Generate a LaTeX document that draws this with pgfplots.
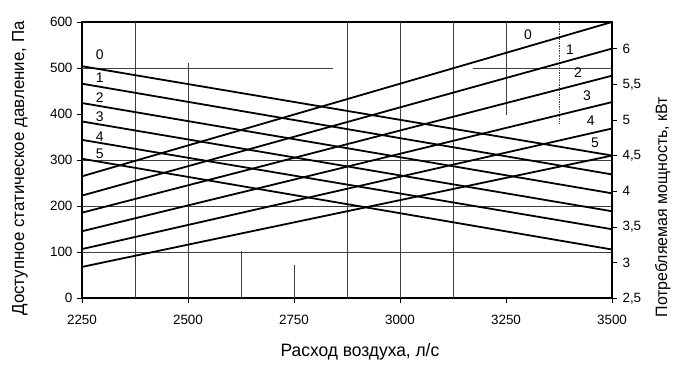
\documentclass[border=0pt]{standalone}
\usepackage{pgfplots}
\pgfplotsset{compat=1.18}
\usepackage{fontspec}
\setmainfont{Liberation Sans}
\newfontfamily\narrowfont[FakeStretch=0.97]{Liberation Sans}
\begin{document}
\begin{tikzpicture}
\useasboundingbox (-82bp,-73bp) rectangle (598bp,298.3bp);
\begin{axis}[
  at={(0,0)}, anchor=south west,
  scale only axis, width=530bp, height=276.3bp,
  xmin=2250, xmax=3500, ymin=0, ymax=600,
  xtick={2250,2500,...,3500}, ytick={0,100,...,600},
  xtick pos=bottom, ytick pos=left,
  tick align=outside, major tick length=5bp,
  tick style={black, line width=0.8bp},
  axis line style={black, line width=2bp},
  /pgf/number format/assume math mode=true,
  scaled x ticks=false,
  xticklabel style={/pgf/number format/1000 sep={}, font=\fontsize{13.5}{14}\selectfont, yshift=-8bp},
  yticklabel style={font=\fontsize{13.5}{14}\selectfont, xshift=-1bp},
  xlabel={\narrowfont\fontsize{18}{20}\selectfont Расход воздуха, л/с},
  xlabel style={at={(rel axis cs:0.5245,-0.195)}, anchor=center},
  ylabel={\narrowfont\fontsize{17.5}{20}\selectfont Доступное статическое давление, Па},
  ylabel style={at={(rel axis cs:-0.117,0.47)}, anchor=center, rotate=0},
  clip=false,
]
% partial grid lines
\draw[black!75, line width=0.7bp] (axis cs:2375,0) -- (axis cs:2375,600);
\draw[black!75, line width=0.7bp] (axis cs:2500,0) -- (axis cs:2500,510);
\draw[black!75, line width=0.7bp] (axis cs:2625,0) -- (axis cs:2625,102);
\draw[black!75, line width=0.7bp] (axis cs:2750,0) -- (axis cs:2750,72);
\draw[black!75, line width=0.7bp] (axis cs:2875,0) -- (axis cs:2875,600);
\draw[black!75, line width=0.7bp] (axis cs:3000,0) -- (axis cs:3000,600);
\draw[black!75, line width=0.7bp] (axis cs:3125,0) -- (axis cs:3125,600);
\draw[black!75, line width=0.7bp] (axis cs:3250,397) -- (axis cs:3250,600);
\draw[black!75, line width=0.7bp, densely dotted] (axis cs:3375,380) -- (axis cs:3375,600);
\draw[black!75, line width=0.7bp] (axis cs:2250,500) -- (axis cs:2842,500);
\draw[black!75, line width=0.7bp] (axis cs:3172,500) -- (axis cs:3500,500);
\draw[black!75, line width=0.7bp] (axis cs:2250,300) -- (axis cs:3500,300);
\draw[black!75, line width=0.7bp] (axis cs:2250,200) -- (axis cs:3500,200);
\draw[black!75, line width=0.7bp] (axis cs:2250,100) -- (axis cs:3500,100);
% pressure curves (left axis)
\addplot[black, line width=1.8bp] coordinates {(2250,504) (3500,310)};
\addplot[black, line width=1.8bp] coordinates {(2250,466) (3500,269)};
\addplot[black, line width=1.8bp] coordinates {(2250,424) (3500,228)};
\addplot[black, line width=1.8bp] coordinates {(2250,384) (3500,189)};
\addplot[black, line width=1.8bp] coordinates {(2250,344) (3500,150)};
\addplot[black, line width=1.8bp] coordinates {(2250,303) (3500,106)};
% curve labels
\begin{scope}[every node/.style={font=\fontsize{14}{14}\selectfont, inner sep=0pt}]
\node at (axis cs:2292,528) {0};
\node at (axis cs:2292,480) {1};
\node at (axis cs:2292,436) {2};
\node at (axis cs:2292,394) {3};
\node at (axis cs:2292,352) {4};
\node at (axis cs:2292,314) {5};
\node at (axis cs:3302,572) {0};
\node at (axis cs:3401,540) {1};
\node at (axis cs:3420,490) {2};
\node at (axis cs:3441,440) {3};
\node at (axis cs:3450,386) {4};
\node at (axis cs:3460,338) {5};
\end{scope}
\end{axis}
\begin{axis}[
  at={(0,0)}, anchor=south west,
  scale only axis, width=530bp, height=276.3bp,
  xmin=2250, xmax=3500, ymin=2.5, ymax=6.373,
  axis x line=none, axis y line*=right,
  ytick={2.5,3,...,6}, ytick pos=right,
  tick align=outside, major tick length=5bp,
  tick style={black, line width=0.8bp},
  axis line style={black, line width=2bp},
  /pgf/number format/assume math mode=true,
  yticklabel style={/pgf/number format/use comma, /pgf/number format/fixed, font=\fontsize{13.5}{14}\selectfont, xshift=2bp},
  ylabel={\narrowfont\fontsize{16.5}{20}\selectfont Потребляемая мощность, кВт},
  ylabel style={at={(rel axis cs:1.096,0.33)}, anchor=center, rotate=0},
]
\addplot[black, line width=1.8bp] coordinates {(2250,4.21) (3500,6.373)};
\addplot[black, line width=1.8bp] coordinates {(2250,3.94) (3500,6.0)};
\addplot[black, line width=1.8bp] coordinates {(2250,3.70) (3500,5.62)};
\addplot[black, line width=1.8bp] coordinates {(2250,3.44) (3500,5.25)};
\addplot[black, line width=1.8bp] coordinates {(2250,3.19) (3500,4.88)};
\addplot[black, line width=1.8bp] coordinates {(2250,2.94) (3500,4.5)};
\end{axis}
\end{tikzpicture}
\end{document}
